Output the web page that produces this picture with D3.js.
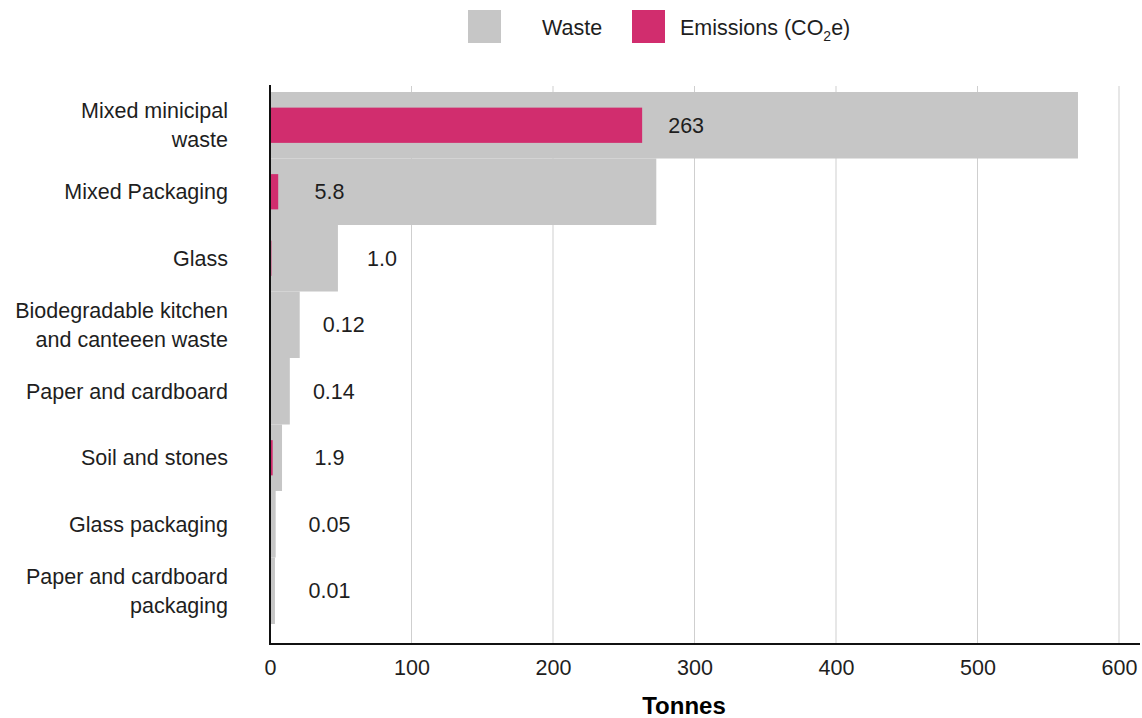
<!DOCTYPE html>
<html>
<head>
<meta charset="utf-8">
<script src="https://cdn.jsdelivr.net/npm/d3@7"></script>
<style>
  html, body { margin: 0; padding: 0; background: #fff; }
  svg { display: block; font-family: "Liberation Sans", Arial, sans-serif; }
</style>
</head>
<body>
<svg id="chart" width="1142" height="718"></svg>
<script>
// Waste generated and associated emissions, by waste stream (tonnes)
const categories = [
  "Mixed minicipal\nwaste",
  "Mixed Packaging",
  "Glass",
  "Biodegradable kitchen\nand canteeen waste",
  "Paper and cardboard",
  "Soil and stones",
  "Glass packaging",
  "Paper and cardboard\npackaging"
];
const wasteTonnes = [571, 273, 48, 21, 14, 8.5, 4, 3.5];
const emissionsTonnes = [263, 5.8, 1.0, 0.12, 0.14, 1.9, 0.05, 0.01];
const emissionLabels = ["263", "5.8", "1.0", "0.12", "0.14", "1.9", "0.05", "0.01"];
const xTicks = [0, 100, 200, 300, 400, 500, 600];
const legendItems = ["Waste", "Emissions"];

const colors = { waste: "#c6c6c6", emissions: "#d12d6e", text: "#1e1e1e", grid: "#cfcfcf" };
const fs = 21.5;

const svg = d3.select("#chart");
const margin = { left: 270, top: 92 };

const x = d3.scaleLinear().domain([0, 600]).range([margin.left, 1119]);
const y = d3.scaleBand().domain(categories).range([margin.top, 624]).padding(0);
const axisY = 644;

// vertical gridlines
svg.append("g").selectAll("line").data(xTicks.slice(1)).join("line")
  .attr("x1", d => x(d)).attr("x2", d => x(d))
  .attr("y1", 86).attr("y2", axisY)
  .attr("stroke", colors.grid).attr("stroke-width", 1);

// waste bars (full band height)
svg.append("g").selectAll("rect").data(categories).join("rect")
  .attr("x", x(0))
  .attr("y", d => y(d))
  .attr("width", (d, i) => x(wasteTonnes[i]) - x(0))
  .attr("height", y.bandwidth())
  .attr("fill", colors.waste);

// emissions bars (narrower, centred in band)
const eh = y.bandwidth() * 0.53;
svg.append("g").selectAll("rect").data(categories).join("rect")
  .attr("x", x(0))
  .attr("y", d => y(d) + (y.bandwidth() - eh) / 2)
  .attr("width", (d, i) => x(emissionsTonnes[i]) - x(0))
  .attr("height", eh)
  .attr("fill", colors.emissions);

// emission value labels
svg.append("g").selectAll("text").data(categories).join("text")
  .attr("x", (d, i) => {
    const end = wasteTonnes[i] < 100 ? x(wasteTonnes[i]) : x(emissionsTonnes[i]);
    return Math.max(end + 44, x(42));
  })
  .attr("y", d => y(d) + y.bandwidth() / 2)
  .attr("dy", "0.35em")
  .attr("text-anchor", "middle")
  .attr("font-size", fs)
  .attr("fill", colors.text)
  .text((d, i) => emissionLabels[i]);

// category labels
const catG = svg.append("g");
categories.forEach(c => {
  const lines = c.split("\n");
  const t = catG.append("text")
    .attr("text-anchor", "end")
    .attr("font-size", fs)
    .attr("fill", colors.text);
  const lh = 29;
  const cy = y(c) + y.bandwidth() / 2 - (lines.length - 1) * lh / 2;
  lines.forEach((ln, k) => {
    t.append("tspan").attr("x", 228).attr("y", cy + k * lh).attr("dy", "0.35em").text(ln);
  });
});

// axes
const xAxis = d3.axisBottom(x).tickValues(xTicks).tickSize(0).tickPadding(16);
const gx = svg.append("g").attr("transform", `translate(0,${axisY})`).call(xAxis);
gx.select(".domain").remove();
gx.selectAll("text").attr("font-size", fs).attr("fill", colors.text)
  .attr("font-family", "Liberation Sans, Arial, sans-serif");

svg.append("line").attr("x1", margin.left).attr("x2", 1140)
  .attr("y1", axisY).attr("y2", axisY).attr("stroke", "#111").attr("stroke-width", 2);
svg.append("line").attr("x1", margin.left).attr("x2", margin.left)
  .attr("y1", 85).attr("y2", axisY + 1).attr("stroke", "#111").attr("stroke-width", 2);

svg.append("text").attr("x", 684).attr("y", 714)
  .attr("text-anchor", "middle").attr("font-size", 24).attr("font-weight", "bold")
  .attr("fill", "#000").text("Tonnes");

// legend
const lg = svg.append("g");
lg.append("rect").attr("x", 468).attr("y", 10).attr("width", 33).attr("height", 33).attr("fill", colors.waste);
lg.append("text").attr("x", 542).attr("y", 35).attr("font-size", fs).attr("fill", colors.text).text(legendItems[0]);
lg.append("rect").attr("x", 632).attr("y", 10).attr("width", 33).attr("height", 33).attr("fill", colors.emissions);
const et = lg.append("text").attr("x", 680).attr("y", 35).attr("font-size", fs).attr("fill", colors.text);
et.append("tspan").text(legendItems[1] + " (CO");
et.append("tspan").attr("font-size", 14).attr("dy", 6).text("2");
et.append("tspan").attr("dy", -6).text("e)");
</script>
</body>
</html>
